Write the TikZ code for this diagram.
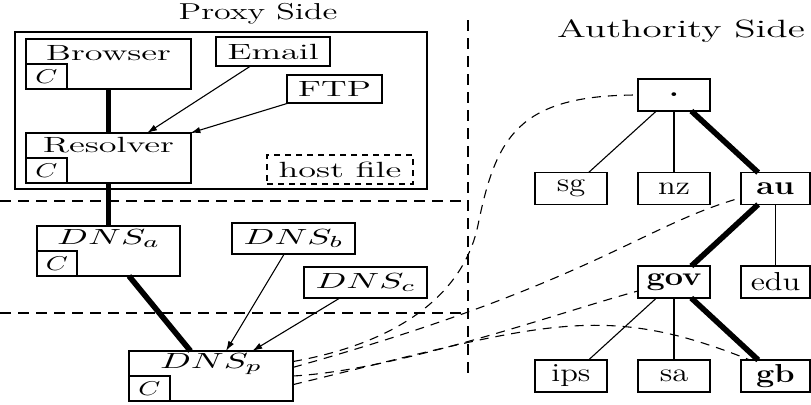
\documentclass[tikz,border=0pt]{standalone}
\usepackage{graphicx}
\usetikzlibrary{arrows.meta}
% horizontally widened text for the different groups of labels
\newcommand{\wl}[1]{\scalebox{1.65}[1]{#1}}
\newcommand{\wc}[1]{\scalebox{1.4}[1]{#1}}
\newcommand{\wt}[1]{\scalebox{1.25}[1]{#1}}
\begin{document}
\begin{tikzpicture}[x=0.5pt, y=-0.5pt,
  every node/.style={inner sep=0pt, outer sep=0pt},
  box/.style={draw, line width=0.7pt, rectangle},
  lfont/.style={font=\fontsize{11}{13}\selectfont},
  tfont/.style={font=\fontsize{13}{15}\selectfont},
  frame/.style={box, minimum width=206pt, minimum height=78.5pt},
  mainbox/.style={box, lfont, minimum width=82.5pt, minimum height=25pt},
  cachebox/.style={box, anchor=south west, minimum width=20.5pt, minimum height=12.5pt,
                   font=\fontsize{10}{11}\selectfont},
  appbox/.style={box, lfont, minimum height=14.5pt},
  dnsbox/.style={box, lfont, minimum width=61.5pt, minimum height=15.5pt},
  hostbox/.style={appbox, dash pattern=on 3pt off 2.5pt},
  tnode/.style={box, tfont, minimum width=36pt, minimum height=16pt},
  tnodeR/.style={tnode, minimum width=34.5pt},
  title/.style={anchor=base},
  heavy/.style={line width=2.8pt},
  light/.style={line width=0.55pt},
  arr/.style={line width=0.55pt, -{Latex[length=5pt, width=3.2pt]}},
  sep/.style={line width=0.55pt, dash pattern=on 5.5pt off 3.5pt},
  link/.style={line width=0.55pt, dash pattern=on 4.5pt off 3.5pt}]
\useasboundingbox (0,0) rectangle (811,404);

% titles
\node[title, font=\fontsize{11.5}{13}\selectfont] (ptitle) at (258,19) {\scalebox{1.48}[1]{Proxy Side}};
\node[title, font=\fontsize{12.5}{14}\selectfont] (atitle) at (681,37) {\scalebox{1.57}[1]{Authority Side}};

% separators between the zones
\draw[sep] (468,20) -- (468,376);
\draw[sep] (0,201) -- (466,201);
\draw[sep] (0,313) -- (466,313);

% proxy host
\node[frame] (proxy) at (221,110.5) {};
\node[mainbox, text height=10.5pt, text depth=14.5pt] (browser) at (108.5,64) {\wl{Browser}};
\node[cachebox] (browserC) at (browser.south west) {\wc{$C$}};
\node[mainbox, text height=9.5pt, text depth=15.5pt] (resolver) at (108.5,158) {\wl{Resolver}};
\node[cachebox] (resolverC) at (resolver.south west) {\wc{$C$}};
\node[appbox, minimum width=57pt] (email) at (273,51.5) {\wl{Email}};
\node[appbox, minimum width=47.5pt, minimum height=14pt] (ftp) at (334.5,89) {\wl{FTP}};
\node[hostbox, minimum width=73pt] (hosts) at (340,169.5) {\wl{host file}};

% DNS servers
\node[mainbox, minimum width=71.5pt, text height=9pt, text depth=16pt] (dnsa) at (108.5,251) {\wl{$DNS_a$}};
\node[cachebox, minimum width=20pt] (dnsaC) at (dnsa.south west) {\wc{$C$}};
\node[dnsbox] (dnsb) at (293.5,238.5) {\wl{$DNS_b$}};
\node[dnsbox] (dnsc) at (365.5,282.5) {\wl{$DNS_c$}};
\node[mainbox, minimum width=82pt, text height=8.5pt, text depth=16.5pt] (dnsp) at (211,376) {\wl{$DNS_p$}};
\node[cachebox] (dnspC) at (dnsp.south west) {\wc{$C$}};

% name tree
\node[tnode] (root) at (674,95) {\wt{\textbf{.}}};
\node[tnode] (sg) at (571,188.5) {\wt{sg}};
\node[tnode] (nz) at (674,188.5) {\wt{nz}};
\node[tnodeR] (au) at (775.5,188.5) {\wt{\textbf{au}}};
\node[tnode] (gov) at (674,282) {\wt{\textbf{gov}}};
\node[tnodeR] (edu) at (775.5,282) {\wt{edu}};
\node[tnode] (ips) at (571,376) {\wt{ips}};
\node[tnode] (sa) at (674,376) {\wt{sa}};
\node[tnodeR] (gb) at (775.5,376) {\wt{\textbf{gb}}};

% resolution chain
\draw[heavy] (browser) -- (resolver);
\draw[heavy] (resolver) -- (dnsa);
\draw[heavy] (dnsa) -- (dnsp);
\draw[arr] (email) -- (resolver);
\draw[arr] (ftp) -- (resolver);
\draw[arr] (dnsb) -- (dnsp);
\draw[arr] (dnsc) -- (dnsp);

% tree edges
\draw[light] (root) -- (sg);
\draw[light] (root) -- (nz);
\draw[heavy] (root) -- (au);
\draw[heavy] (au) -- (gov);
\draw[light] (au) -- (edu);
\draw[light] (gov) -- (ips);
\draw[light] (gov) -- (sa);
\draw[heavy] (gov) -- (gb);

% queries from the proxy DNS
\draw[link] (dnsp.10) .. controls (413,340) and (466,284) .. (478,225)
                      .. controls (496,137) and (518,95) .. (root.west);
\draw[link] (dnsp.6) .. controls (593,283) and (641,226) .. (au.195);
\draw[link] (dnsp.east) .. controls (400,370) and (560,312) .. (gov.194);
\draw[link] (dnsp.-6) .. controls (543,324) and (600,300) .. (gb.148);
\end{tikzpicture}
\end{document}
